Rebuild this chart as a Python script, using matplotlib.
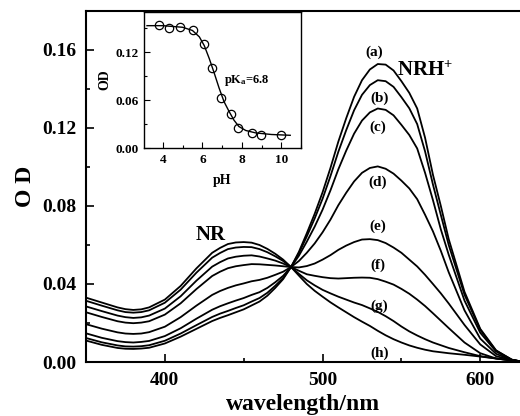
import numpy as np
import matplotlib
matplotlib.use("Agg")
import matplotlib.pyplot as plt
from matplotlib.ticker import MultipleLocator

# absorption spectra, wavelength in nm
wavelength = [350, 360, 370, 375, 380, 385, 390, 400, 410, 420, 430, 435, 440, 445, 450, 455,
              460, 465, 470, 475, 480, 485, 490, 495, 500, 505, 510, 515, 520, 525, 530, 535,
              540, 545, 550, 555, 560, 565, 570, 575, 580, 590, 600, 610, 620, 625]

od_a = [.0110, .0088, .0072, .0068, .0067, .0069, .0073, .0095, .0130, .0170, .0210, .0226, .0240, .0255, .0270, .0290,
        .0310, .0340, .0380, .0425, .0487, .0565, .0660, .0760, .0870, .0995, .1130, .1250, .1360, .1445, .1500, .1528,
        .1525, .1495, .1440, .1380, .1300, .1150, .0960, .0800, .0630, .0360, .0170, .0060, .0012, .0004]
od_b = [.0123, .0101, .0085, .0080, .0079, .0081, .0086, .0109, .0146, .0189, .0231, .0248, .0262, .0277, .0291, .0310,
        .0328, .0355, .0391, .0431, .0487, .0558, .0644, .0736, .0837, .0953, .1078, .1189, .1291, .1370, .1420, .1445,
        .1440, .1411, .1358, .1301, .1220, .1080, .0910, .0754, .0600, .0345, .0165, .0058, .0012, .0004]
od_c = [.0147, .0124, .0107, .0102, .0100, .0103, .0108, .0133, .0173, .0222, .0268, .0286, .0301, .0315, .0328, .0344,
        .0358, .0380, .0409, .0442, .0487, .0545, .0617, .0694, .0781, .0880, .0988, .1084, .1171, .1238, .1280, .1300,
        .1293, .1265, .1216, .1164, .1095, .0970, .0830, .0680, .0550, .0315, .0150, .0054, .0011, .0004]
od_d = [.0194, .0171, .0152, .0146, .0144, .0146, .0153, .0181, .0230, .0289, .0344, .0364, .0380, .0393, .0403, .0414,
        .0421, .0432, .0447, .0463, .0487, .0518, .0560, .0608, .0665, .0730, .0804, .0868, .0926, .0970, .0995, .1003,
        .0991, .0966, .0930, .0890, .0835, .0755, .0670, .0570, .0460, .0265, .0120, .0042, .0010, .0004]
od_e = [.0255, .0231, .0209, .0202, .0199, .0202, .0209, .0243, .0301, .0374, .0441, .0463, .0481, .0491, .0497, .0502,
        .0501, .0498, .0495, .0491, .0487, .0485, .0492, .0505, .0525, .0548, .0575, .0597, .0615, .0628, .0630, .0625,
        .0610, .0587, .0560, .0525, .0490, .0447, .0400, .0352, .0300, .0190, .0090, .0030, .0010, .0004]
od_f = [.0285, .0261, .0238, .0230, .0226, .0229, .0238, .0274, .0337, .0417, .0489, .0512, .0531, .0540, .0545, .0547,
        .0541, .0531, .0520, .0505, .0487, .0468, .0450, .0442, .0435, .0430, .0428, .0430, .0432, .0433, .0432, .0425,
        .0412, .0397, .0375, .0350, .0320, .0287, .0250, .0212, .0174, .0100, .0045, .0018, .0008, .0004]
od_g = [.0314, .0289, .0265, .0256, .0253, .0256, .0265, .0304, .0371, .0458, .0535, .0559, .0579, .0587, .0590, .0589,
        .0579, .0563, .0542, .0518, .0487, .0452, .0419, .0393, .0370, .0352, .0335, .0320, .0305, .0292, .0275, .0257,
        .0235, .0210, .0182, .0157, .0136, .0117, .0100, .0086, .0072, .0050, .0030, .0018, .0008, .0004]
od_h = [.0330, .0305, .0280, .0271, .0267, .0270, .0280, .0320, .0390, .0480, .0560, .0585, .0605, .0613, .0615, .0612,
        .0600, .0580, .0555, .0525, .0487, .0443, .0400, .0365, .0335, .0306, .0280, .0255, .0230, .0207, .0185, .0160,
        .0137, .0117, .0100, .0085, .0073, .0063, .0055, .0050, .0045, .0037, .0028, .0018, .0008, .0004]
curve_labels = ["(a)", "(b)", "(c)", "(d)", "(e)", "(f)", "(g)", "(h)"]
label_x = [533, 536, 535, 535, 535, 535, 536, 536]
label_y = [0.159, 0.135, 0.1205, 0.092, 0.0697, 0.0497, 0.0287, 0.0046]

# inset: titration
ph_points = [3.8, 4.3, 4.85, 5.55, 6.1, 6.5, 6.95, 7.45, 7.8, 8.5, 8.95, 10.0]
od_points = [0.154, 0.150, 0.151, 0.148, 0.130, 0.100, 0.0625, 0.0425, 0.025, 0.019, 0.016, 0.016]
ph_fit = [3.2, 4.0, 5.0, 5.5, 5.85, 6.1, 6.35, 6.6, 6.85, 7.1, 7.35, 7.6, 7.85, 8.2, 8.7, 9.5, 10.45]
od_fit = [.153, .153, .151, .147, .139, .128, .112, .094, .075, .058, .046, .035, .027, .022, .019, .017, .016]

plt.rcParams["font.family"] = ["Liberation Serif", "DejaVu Serif"]
plt.rcParams["font.weight"] = "bold"
plt.rcParams["axes.labelweight"] = "bold"
plt.rcParams["mathtext.fontset"] = "custom"
plt.rcParams["mathtext.rm"] = "Liberation Serif:bold"
plt.rcParams["mathtext.it"] = "Liberation Serif:bold"
plt.rcParams["mathtext.bf"] = "Liberation Serif:bold"

fig = plt.figure(figsize=(5.2, 4.16), dpi=100)
ax = fig.add_axes([0.1654, 0.1298, 0.834, 0.8438])

for od in [od_a, od_b, od_c, od_d, od_e, od_f, od_g, od_h]:
    ax.plot(wavelength, od, color="black", linewidth=1.3)

for lab, lx, ly in zip(curve_labels, label_x, label_y):
    ax.text(lx, ly, lab, ha="center", va="center", fontsize=11)

ax.text(565, 0.149, "NRH$^{+}$", ha="center", va="center", fontsize=15)
ax.text(429, 0.065, "NR", ha="center", va="center", fontsize=15)

ax.set_xlim(350, 625)
ax.set_ylim(0, 0.18)
ax.xaxis.set_major_locator(MultipleLocator(100))
ax.xaxis.set_minor_locator(MultipleLocator(50))
ax.yaxis.set_minor_locator(MultipleLocator(0.02))
ax.set_yticks([0.00, 0.04, 0.08, 0.12, 0.16])
ax.set_yticklabels(["0.00", "0.04", "0.08", "0.12", "0.16"])
ax.tick_params(which="both", direction="in", labelsize=14, width=1.2)
ax.tick_params(which="major", length=6, pad=7)
ax.tick_params(which="minor", length=3)
ax.tick_params(top=False, right=False)
for s in ["left", "bottom", "top"]:
    ax.spines[s].set_linewidth(1.5)
ax.spines["right"].set_visible(False)
ax.set_xlabel("wavelength/nm", fontsize=17, labelpad=4)
ax.set_ylabel("O D", fontsize=17, labelpad=4)

# inset
ins = fig.add_axes([0.277, 0.644, 0.302, 0.327])
ins.plot(ph_fit, od_fit, color="black", linewidth=1.0)
ins.plot(ph_points, od_points, linestyle="none", marker="o", markersize=6,
         markerfacecolor="none", markeredgecolor="black", markeredgewidth=0.9)
ins.text(8.25, 0.085, "pK$_a$=6.8", ha="center", va="center", fontsize=9)
ins.set_xlim(3.05, 11)
ins.set_ylim(0, 0.17)
ins.set_xticks([4, 6, 8, 10])
ins.xaxis.set_minor_locator(MultipleLocator(1))
ins.set_yticks([0.00, 0.06, 0.12])
ins.set_yticklabels(["0.00", "0.06", "0.12"])
ins.yaxis.set_minor_locator(MultipleLocator(0.03))
ins.tick_params(which="both", direction="in", labelsize=9.5, width=0.8)
ins.tick_params(which="major", length=4, pad=4)
ins.tick_params(which="minor", length=2)
for s in ins.spines.values():
    s.set_linewidth(1.0)
ins.set_xlabel("pH", fontsize=10, labelpad=6)
ins.set_ylabel("OD", fontsize=10, labelpad=3)

fig.savefig("out.png", dpi=100)
